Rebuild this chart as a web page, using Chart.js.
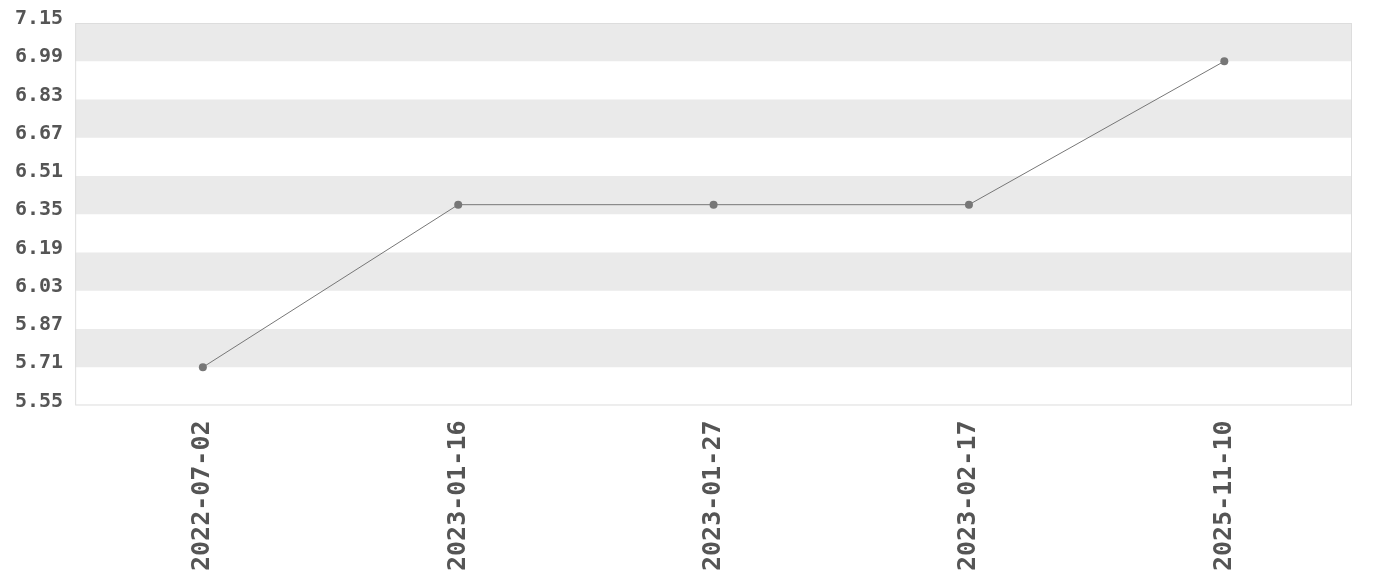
<!DOCTYPE html>
<html>
<head>
<meta charset="utf-8">
<script src="https://cdn.jsdelivr.net/npm/chart.js@4"></script>
<style>
  html, body { margin: 0; padding: 0; background: #fff; }
  #wrap { width: 1380px; height: 580px; }
</style>
</head>
<body>
<div id="wrap"><canvas id="chart"></canvas></div>
<script>
const dates = ['2022-07-02', '2023-01-16', '2023-01-27', '2023-02-17', '2025-11-10'];
const values = [5.71, 6.39, 6.39, 6.39, 6.99];
const yTicks = [5.55, 5.71, 5.87, 6.03, 6.19, 6.35, 6.51, 6.67, 6.83, 6.99, 7.15];

const textColor = '#555555';
const fontFamily = '"DejaVu Sans Mono", monospace';

// striped background + thin frame round the plot area
const bands = {
  id: 'bands',
  beforeDatasetsDraw(chart) {
    const {ctx, chartArea: a, scales: {y}} = chart;
    ctx.save();
    ctx.fillStyle = '#eaeaea';
    for (let i = 1; i < yTicks.length - 1; i += 2) {
      const top = y.getPixelForValue(yTicks[i + 1]);
      const bot = y.getPixelForValue(yTicks[i]);
      ctx.fillRect(a.left, top, a.right - a.left, bot - top);
    }
    ctx.strokeStyle = '#dddddd';
    ctx.lineWidth = 1;
    ctx.strokeRect(a.left + 0.5, a.top + 0.5, a.right - a.left - 1, a.bottom - a.top - 1);
    ctx.restore();
  }
};

new Chart(document.getElementById('chart'), {
  type: 'line',
  data: {
    labels: dates,
    datasets: [{
      data: values,
      borderColor: '#777777',
      backgroundColor: '#777777',
      borderWidth: 1,
      pointRadius: 4,
      pointHoverRadius: 4,
      pointBackgroundColor: '#777777',
      pointBorderWidth: 0,
      tension: 0
    }]
  },
  options: {
    responsive: true,
    maintainAspectRatio: false,
    animation: false,
    layout: { padding: { top: 23, left: 11, right: 28, bottom: 2 } },
    plugins: { legend: { display: false }, tooltip: { enabled: false } },
    scales: {
      x: {
        offset: true,
        grid: { display: false },
        border: { display: false },
        ticks: {
          color: textColor,
          font: { family: fontFamily, size: 25, weight: 'bold' },
          maxRotation: 90,
          minRotation: 90,
          padding: 7
        }
      },
      y: {
        min: yTicks[0],
        max: yTicks[yTicks.length - 1],
        afterBuildTicks(axis) {
          axis.ticks = yTicks.map(v => ({ value: v }));
        },
        grid: { display: false },
        border: { display: false },
        ticks: {
          color: textColor,
          font: { family: fontFamily, size: 20, weight: 'bold' },
          padding: 4,
          labelOffset: -4,
          callback: v => Number(v).toFixed(2)
        }
      }
    }
  },
  plugins: [bands]
});
</script>
</body>
</html>
